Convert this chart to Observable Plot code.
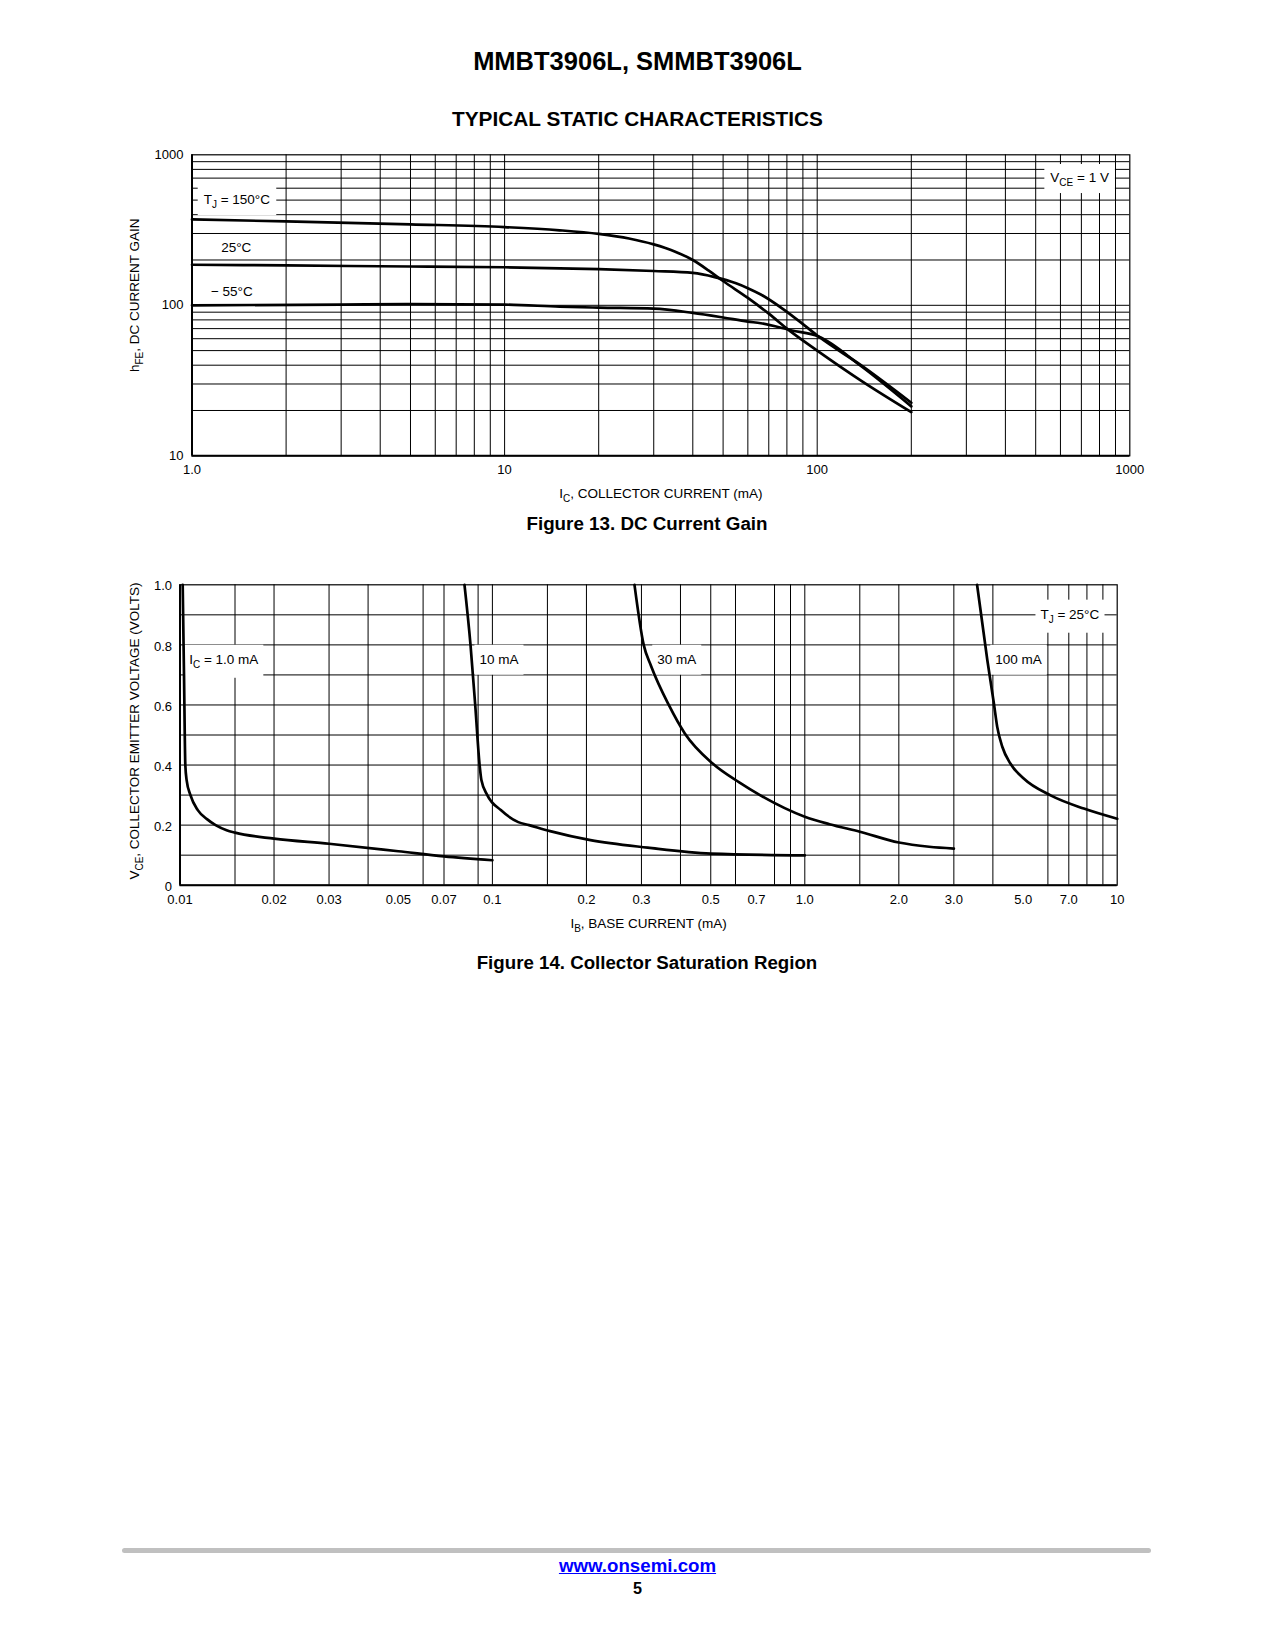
<!DOCTYPE html>
<html><head><meta charset="utf-8">
<script src="https://cdn.jsdelivr.net/npm/d3@7"></script>
<script src="https://cdn.jsdelivr.net/npm/@observablehq/plot@0.6"></script>
<style>
html,body{margin:0;padding:0;background:#fff;}
body{width:1275px;height:1650px;position:relative;overflow:hidden;font-family:"Liberation Sans",Arial,sans-serif;color:#000}
.t{position:absolute;left:0;width:1275px;text-align:center;line-height:1;white-space:nowrap;font-weight:bold}
.cap{left:9.5px}
#fig13{position:absolute;left:0;top:130px}
#fig14{position:absolute;left:0;top:560px}
#bar{position:absolute;left:122px;width:1029px;top:1547.5px;height:5px;border-radius:3px;background:#c0c0c0}
a{color:#0000ff}
</style></head><body>
<div class="t" style="top:49.4px;font-size:25.5px">MMBT3906L, SMMBT3906L</div>
<div class="t" style="top:109.1px;font-size:20.8px">TYPICAL STATIC CHARACTERISTICS</div>
<div id="fig13"></div>
<div class="t cap" style="top:514.7px;font-size:18.8px">Figure 13. DC Current Gain</div>
<div id="fig14"></div>
<div class="t cap" style="top:954.4px;font-size:18.7px">Figure 14. Collector Saturation Region</div>
<div id="bar"></div>
<div class="t" style="top:1557px;font-size:18.7px"><a href="#">www.onsemi.com</a></div>
<div class="t" style="top:1579.6px;font-size:16.2px">5</div>
<script>
// ---------- Figure 13 data: hFE vs IC ----------
const icDomain = [1, 1000];
const hfeDomain = [10, 1000];
const icTicks = [1, 10, 100, 1000];
const icTickLabels = ["1.0", "10", "100", "1000"];
const hfeTicks = [10, 100, 1000];
const hfeTickLabels = ["10", "100", "1000"];
const icGrid = [2,3,4,5,6,7,8,9,10,20,30,40,50,60,70,80,90,100,200,300,400,500,600,700,800,900];
const hfeGrid = [20,30,40,50,60,70,80,90,100,200,300,400,500,600,700,800,900];

const ic150 = [1, 2, 5, 10, 15, 20, 25, 30, 35, 40, 45, 50, 60, 70, 80, 100, 140, 200];
const hfe150 = [372, 361, 345, 331, 315, 298, 278, 254, 228, 200, 170, 145, 112, 88, 70, 50, 31, 19.5];
const ic25 = [1, 2, 5, 10, 20, 30, 40, 47, 55, 60, 66, 78, 90, 101, 138, 200];
const hfe25 = [186, 184, 181, 179, 174, 169, 164, 154, 140, 130, 118, 94, 75, 62, 40, 22.5];
const icM55 = [1, 3, 5, 10, 15, 20, 30, 40, 50, 60, 66, 83, 101, 138, 200];
const hfeM55 = [100, 101, 102, 101, 98, 96.5, 95, 89, 83, 78, 76, 68, 62, 39.5, 21.3];

const labels13Text = ["T_{J} = 150°C", "25°C", "− 55°C", "V_{CE} = 1 V"];
const labels13X = [1.09, 1.24, 1.15, 557];
const labels13Y = [505, 240, 124, 710];
const labels13Boxed = ["T_{J} = 150°C", "V_{CE} = 1 V"];

// ---------- Figure 14 data: VCE vs IB ----------
const ibDomain = [0.01, 10];
const vceDomain = [0, 1];
const ibTicks = [0.01, 0.02, 0.03, 0.05, 0.07, 0.1, 0.2, 0.3, 0.5, 0.7, 1, 2, 3, 5, 7, 10];
const ibTickLabels = ["0.01","0.02","0.03","0.05","0.07","0.1","0.2","0.3","0.5","0.7","1.0","2.0","3.0","5.0","7.0","10"];
const vceTicks = [0, 0.2, 0.4, 0.6, 0.8, 1.0];
const vceTickLabels = ["0", "0.2", "0.4", "0.6", "0.8", "1.0"];
const ibGrid = [0.015,0.02,0.03,0.04,0.06,0.07,0.09,0.1,0.15,0.2,0.3,0.4,0.5,0.6,0.8,0.9,1,1.5,2,3,4,6,7,8,9];
const vceGrid = [0.1,0.2,0.3,0.4,0.5,0.6,0.7,0.8,0.9];

const ib1 = [0.0102, 0.0103, 0.0104, 0.0105, 0.0108, 0.0114, 0.0122, 0.013, 0.0141, 0.015, 0.02, 0.03, 0.05, 0.07, 0.1];
const vce1 = [1.0, 0.7, 0.4, 0.35, 0.3, 0.25, 0.22, 0.2, 0.183, 0.175, 0.155, 0.138, 0.113, 0.096, 0.083];
const ib10 = [0.0814, 0.0851, 0.0881, 0.091, 0.0922, 0.0963, 0.1064, 0.121, 0.131, 0.153, 0.206, 0.314, 0.5, 1.0];
const vce10 = [1.0, 0.8, 0.6, 0.4, 0.35, 0.3, 0.25, 0.21, 0.2, 0.18, 0.15, 0.125, 0.105, 0.099];
const ib30 = [0.285, 0.305, 0.322, 0.367, 0.413, 0.507, 0.615, 0.721, 1.0, 1.2, 1.5, 2.0, 2.5, 3.0];
const vce30 = [1.0, 0.8, 0.73, 0.6, 0.505, 0.405, 0.343, 0.299, 0.228, 0.203, 0.178, 0.142, 0.128, 0.122];
const ib100 = [3.56, 3.84, 4.03, 4.13, 4.29, 4.55, 5.02, 6.12, 7.82, 10];
const vce100 = [1.0, 0.749, 0.605, 0.527, 0.46, 0.405, 0.355, 0.299, 0.255, 0.221];

const labels14Text = ["I_{C} = 1.0 mA", "10 mA", "30 mA", "100 mA", "T_{J} = 25°C"];
const labels14X = [0.0107, 0.0909, 0.337, 4.07, 5.68];
const labels14Y = [0.75, 0.75, 0.75, 0.75, 0.9];

// ---------- helpers ----------
const FONT = '"Liberation Sans", Arial, sans-serif';
const zip = (name, xs, ys, kx, ky) => xs.map((x, i) => ({series: name, [kx]: x, [ky]: ys[i]}));
const labelRows = (t, xs, ys) => t.map((s, i) => ({text: s, x: xs[i], y: ys[i]}));

function postProcess(svg, boxed, padX, padY) {
  const sel = d3.select(svg);
  sel.selectAll("text").each(function() {
    if (boxed.includes(this.textContent)) this.classList.add("annot");
  });
  sel.selectAll("text").each(function() {
    const t = this.textContent;
    if (!t.includes("_{")) return;
    const fs = parseFloat(getComputedStyle(this).fontSize);
    const parts = t.split(/(_\{[^}]*\})/).filter(p => p);
    this.textContent = "";
    let shifted = false;
    for (const p of parts) {
      const m = p.match(/^_\{(.*)\}$/);
      const ts = d3.select(this).append("tspan");
      if (m) { ts.text(m[1]).attr("font-size", fs * 0.74).attr("dy", fs * 0.3); shifted = true; }
      else { ts.text(p); if (shifted) { ts.attr("dy", -fs * 0.3); shifted = false; } }
    }
  });
  sel.selectAll("text.annot").each(function() {
    const b = this.getBBox();
    const r = document.createElementNS("http://www.w3.org/2000/svg", "rect");
    r.setAttribute("x", b.x - padX);
    r.setAttribute("y", b.y - padY);
    r.setAttribute("width", b.width + 2 * padX);
    r.setAttribute("height", b.height + 2 * padY);
    r.setAttribute("fill", "#fff");
    const tr = this.getAttribute("transform");
    if (tr) r.setAttribute("transform", tr);
    this.parentNode.insertBefore(r, this);
  });
}

function xTickText(ticks, labels, dy) {
  return Plot.text(ticks, {x: d => d, frameAnchor: "bottom", text: (d, i) => labels[i], lineAnchor: "top", dy, fontSize: 13, fill: "#000"});
}
function yTickText(ticks, labels, dx, dy) {
  return Plot.text(ticks, {y: d => d, frameAnchor: "left", text: (d, i) => labels[i], textAnchor: "end", lineAnchor: "middle", dx, dy, fontSize: 13, fill: "#000"});
}

// ---------- Figure 13 ----------
const rows13 = [
  ...zip("150", ic150, hfe150, "ic", "hfe"),
  ...zip("25", ic25, hfe25, "ic", "hfe"),
  ...zip("-55", icM55, hfeM55, "ic", "hfe")
];
const fig13 = Plot.plot({
  width: 1275, height: 380,
  marginLeft: 191.5, marginRight: 145.7, marginTop: 24.3, marginBottom: 54.7,
  style: {fontFamily: FONT, fontSize: "13px", color: "#000", background: "transparent", overflow: "visible"},
  x: {type: "log", domain: icDomain, axis: null},
  y: {type: "log", domain: hfeDomain, axis: null},
  marks: [
    Plot.ruleX(icGrid, {stroke: "#000", strokeWidth: 1}),
    Plot.ruleY(hfeGrid, {stroke: "#000", strokeWidth: 1}),
    Plot.text(labelRows(labels13Text, labels13X, labels13Y), {x: "x", y: "y", text: "text", textAnchor: "start", fontSize: 13.5, fill: "#000"}),
    Plot.line(rows13, {x: "ic", y: "hfe", z: "series", stroke: "#000", strokeWidth: 2.7, curve: "monotone-x", strokeLinejoin: "round"}),
    Plot.frame({stroke: "#000", strokeWidth: 1.2}),
    Plot.ruleX([icDomain[0]], {stroke: "#000", strokeWidth: 2}),
    Plot.ruleY([hfeDomain[0]], {stroke: "#000", strokeWidth: 2}),
    xTickText(icTicks, icTickLabels, 9.3),
    yTickText(hfeTicks, hfeTickLabels, -8.5, 0),
    Plot.text(["I_{C}, COLLECTOR CURRENT (mA)"], {frameAnchor: "bottom", dy: 42, fontSize: 13.5, fill: "#000"}),
    Plot.text(["h_{FE}, DC CURRENT GAIN"], {frameAnchor: "left", dx: -57.5, dy: -10, rotate: -90, textAnchor: "middle", fontSize: 13.5, fill: "#000"})
  ]
});
document.getElementById("fig13").append(fig13);
postProcess(fig13, labels13Boxed, 6, 5.5);

// ---------- Figure 14 ----------
const rows14 = [
  ...zip("1mA", ib1, vce1, "ib", "vce"),
  ...zip("10mA", ib10, vce10, "ib", "vce"),
  ...zip("30mA", ib30, vce30, "ib", "vce"),
  ...zip("100mA", ib100, vce100, "ib", "vce")
];
const fig14 = Plot.plot({
  width: 1275, height: 390,
  marginLeft: 179.5, marginRight: 158.3, marginTop: 24.3, marginBottom: 65.3,
  style: {fontFamily: FONT, fontSize: "13px", color: "#000", background: "transparent", overflow: "visible"},
  x: {type: "log", domain: ibDomain, axis: null},
  y: {type: "linear", domain: vceDomain, axis: null},
  marks: [
    Plot.ruleX(ibGrid, {stroke: "#000", strokeWidth: 1}),
    Plot.ruleY(vceGrid, {stroke: "#000", strokeWidth: 1}),
    Plot.text(labelRows(labels14Text, labels14X, labels14Y), {x: "x", y: "y", text: "text", textAnchor: "start", fontSize: 13.5, fill: "#000"}),
    Plot.line(rows14, {x: "ib", y: "vce", z: "series", stroke: "#000", strokeWidth: 2.7, curve: "monotone-x", strokeLinejoin: "round"}),
    Plot.frame({stroke: "#000", strokeWidth: 1.2}),
    Plot.ruleX([ibDomain[0]], {stroke: "#000", strokeWidth: 2}),
    Plot.ruleY([vceDomain[0]], {stroke: "#000", strokeWidth: 2}),
    xTickText(ibTicks, ibTickLabels, 10),
    yTickText(vceTicks, vceTickLabels, -8, 1.5),
    Plot.text(["I_{B}, BASE CURRENT (mA)"], {frameAnchor: "bottom", dy: 42.5, fontSize: 13.5, fill: "#000"}),
    Plot.text(["V_{CE}, COLLECTOR EMITTER VOLTAGE (VOLTS)"], {frameAnchor: "left", dx: -45.5, dy: -4, rotate: -90, textAnchor: "middle", fontSize: 13.5, fill: "#000"})
  ]
});
document.getElementById("fig14").append(fig14);
postProcess(fig14, labels14Text, 5, 7.5);
</script>
</body></html>
